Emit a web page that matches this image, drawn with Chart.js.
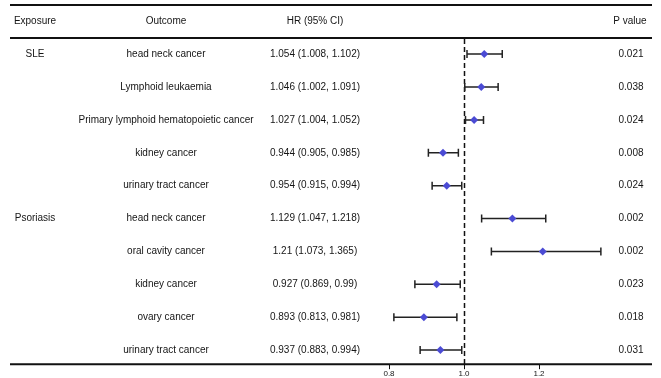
<!DOCTYPE html>
<html>
<head>
<meta charset="utf-8">
<script src="https://cdn.jsdelivr.net/npm/chart.js@4"></script>
<style>
  html, body { margin: 0; padding: 0; background: #fff; }
  canvas { display: block; }
</style>
</head>
<body>
<canvas id="forestCanvas" width="661" height="378"></canvas>
<script>
// 表の各列（上から順）
const exposures = ["SLE", "", "", "", "", "Psoriasis", "", "", "", ""];
const outcomes = [
  "head neck cancer",
  "Lymphoid leukaemia",
  "Primary lymphoid hematopoietic cancer",
  "kidney cancer",
  "urinary tract cancer",
  "head neck cancer",
  "oral cavity cancer",
  "kidney cancer",
  "ovary cancer",
  "urinary tract cancer",
];
const hrValues = [1.054, 1.046, 1.027, 0.944, 0.954, 1.129, 1.21, 0.927, 0.893, 0.937];
const ciLower = [1.008, 1.002, 1.004, 0.905, 0.915, 1.047, 1.073, 0.869, 0.813, 0.883];
const ciUpper = [1.102, 1.091, 1.052, 0.985, 0.994, 1.218, 1.365, 0.99, 0.981, 0.994];
const pValues = ["0.021", "0.038", "0.024", "0.008", "0.024", "0.002", "0.002", "0.023", "0.018", "0.031"];
const xTicks = [0.8, 1.0, 1.2];

const FONT = "10px 'Liberation Sans', Arial, sans-serif";
const TEXT_COLOR = "#151515";

/**
 * 表のテキスト・罫線・誤差棒を描くプラグイン
 */
const tablePlugin = {
  id: "forestTable",
  beforeDatasetsDraw(chart) {
    const { ctx, chartArea, scales } = chart;
    const xs = scales.x;
    const ys = scales.y;
    const bottom = chartArea.bottom;

    ctx.save();
    // 罫線
    ctx.strokeStyle = "#111";
    ctx.lineWidth = 2;
    [5, 38, bottom].forEach((y) => {
      ctx.beginPath();
      ctx.moveTo(10, y);
      ctx.lineTo(652, y);
      ctx.stroke();
    });

    // 基準線 HR = 1
    const x1 = Math.round(xs.getPixelForValue(1)) + 0.5;
    ctx.lineWidth = 1.5;
    ctx.setLineDash([5, 3]);
    ctx.beginPath();
    ctx.moveTo(x1, 39);
    ctx.lineTo(x1, bottom);
    ctx.stroke();
    ctx.setLineDash([]);

    // ヘッダー
    ctx.fillStyle = TEXT_COLOR;
    ctx.font = FONT;
    ctx.textBaseline = "middle";
    ctx.textAlign = "center";
    ctx.fillText("Exposure", 35, 21);
    ctx.fillText("Outcome", 166, 21);
    ctx.fillText("HR (95% CI)", 315, 21);
    ctx.fillText("P value", 630, 21);

    // 各行
    outcomes.forEach((name, i) => {
      const y = ys.getPixelForValue(i);
      ctx.fillText(exposures[i], 35, y);
      ctx.fillText(name, 166, y);
      ctx.fillText(`${hrValues[i]} (${ciLower[i]}, ${ciUpper[i]})`, 315, y);
      ctx.fillText(pValues[i], 631, y);

      // 誤差棒
      const xl = xs.getPixelForValue(ciLower[i]);
      const xu = xs.getPixelForValue(ciUpper[i]);
      ctx.strokeStyle = "#222";
      ctx.lineWidth = 1.5;
      ctx.beginPath();
      ctx.moveTo(xl, y);
      ctx.lineTo(xu, y);
      ctx.moveTo(xl, y - 4);
      ctx.lineTo(xl, y + 4);
      ctx.moveTo(xu, y - 4);
      ctx.lineTo(xu, y + 4);
      ctx.stroke();
    });
    ctx.restore();
  },
};

const ctx = document.getElementById("forestCanvas").getContext("2d");
const forestChart = new Chart(ctx, {
  type: "scatter",
  data: {
    datasets: [
      {
        label: "HR",
        data: hrValues.map((v, i) => ({ x: v, y: i })),
        pointStyle: "rectRot",
        pointRadius: 4,
        pointHoverRadius: 4,
        backgroundColor: "#4b4bd4",
        borderWidth: 0,
      },
    ],
  },
  options: {
    responsive: false,
    animation: false,
    layout: {
      padding: { left: 389, right: 47, top: 38, bottom: 0 },
    },
    plugins: {
      legend: { display: false },
      tooltip: { enabled: false },
    },
    scales: {
      x: {
        type: "linear",
        min: 0.8,
        max: 1.4,
        afterBuildTicks: (scale) => {
          scale.ticks = xTicks.map((v) => ({ value: v }));
        },
        grid: {
          drawOnChartArea: false,
          drawTicks: true,
          tickLength: 5,
          color: "#111",
          lineWidth: 1,
        },
        border: { display: false },
        ticks: {
          padding: 0,
          maxRotation: 0,
          color: TEXT_COLOR,
          font: { family: "'Liberation Sans', Arial, sans-serif", size: 8, lineHeight: 1.1 },
          callback: (v) => Number(v).toFixed(1),
        },
      },
      y: {
        type: "linear",
        display: false,
        reverse: true,
        min: -0.49,
        max: 9.43,
      },
    },
  },
  plugins: [tablePlugin],
});
</script>
</body>
</html>
